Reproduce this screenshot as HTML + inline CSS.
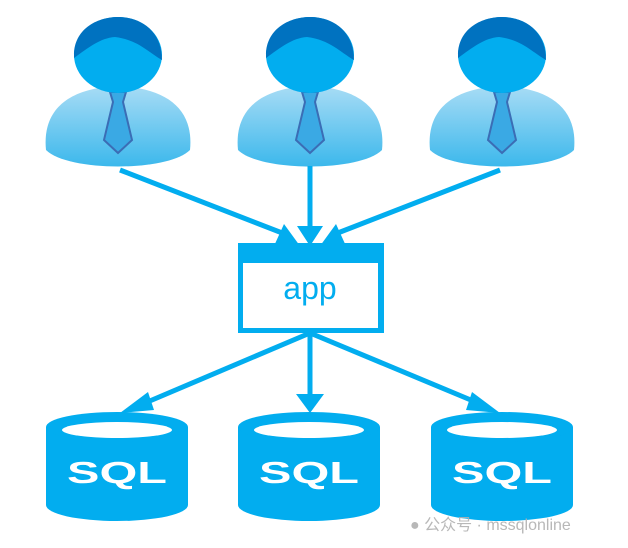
<!DOCTYPE html>
<html><head><meta charset="utf-8"><style>
html,body{margin:0;padding:0;background:#fff;width:628px;height:548px;overflow:hidden}
</style></head><body>
<svg width="628" height="548" viewBox="0 0 628 548" xmlns="http://www.w3.org/2000/svg">
<defs>
<linearGradient id="bd" x1="0" y1="0" x2="0" y2="1">
<stop offset="0" stop-color="#a8dcf5"/><stop offset="1" stop-color="#3cb8ec"/>
</linearGradient>
<g id="person">
<path d="M-72,150 C-76,110 -50,88 0,86 C50,88 76,110 72,150 C50,172 -50,172 -72,150 Z" fill="url(#bd)"/>
<path d="M-8,92 L8,92 L5,102 L14,140 L0,153 L-14,140 L-5,102 Z" fill="#3aa9e4" stroke="#3b6db5" stroke-width="2"/>
<ellipse cx="0" cy="55" rx="44" ry="38" fill="#02adef"/>
<path d="M-44,55 C-44,30 -22,17 0,17 C24,17 44,32 44,60 C30,52 20,40 -3,37 C-18,38 -30,48 -44,58 Z" fill="#0072c0"/>
</g>
<g id="cyl">
<path d="M-71,427 L-71,505 A71,16 0 0 0 71,505 L71,427 Z" fill="#02adef"/>
<ellipse cx="0" cy="427" rx="71" ry="15" fill="#02adef"/>
<ellipse cx="0" cy="430" rx="55" ry="8" fill="#fff"/>
<text x="-50" y="483" textLength="100" lengthAdjust="spacingAndGlyphs" font-family="Liberation Sans, sans-serif" font-weight="bold" font-size="31" fill="#fff">SQL</text>
</g>
</defs>
<use href="#person" x="118" y="0"/>
<use href="#person" x="310" y="0"/>
<use href="#person" x="502" y="0"/>
<g stroke="#02adef" stroke-width="5" fill="none">
<line x1="120" y1="170" x2="290" y2="236"/>
<line x1="310" y1="166" x2="310" y2="228"/>
<line x1="500" y1="170" x2="330" y2="236"/>
<line x1="310" y1="333" x2="145" y2="403"/>
<line x1="310" y1="333" x2="310" y2="395"/>
<line x1="310" y1="333" x2="478" y2="403"/>
</g>
<g fill="#02adef">
<polygon points="284,224 300,246 274,246"/>
<polygon points="297,226 323,226 310,246"/>
<polygon points="336,224 346,246 320,246"/>
<polygon points="148,392 154,410 120,413"/>
<polygon points="296,394 324,394 310,413"/>
<polygon points="472,392 500,413 466,410"/>
</g>
<rect x="238" y="243" width="146" height="90" fill="#02adef"/>
<rect x="243" y="263" width="135" height="65" fill="#fff"/>
<text x="310" y="299" text-anchor="middle" font-family="Liberation Sans, sans-serif" font-size="32" fill="#02adef">app</text>
<use href="#cyl" x="117" y="0"/>
<use href="#cyl" x="309" y="0"/>
<use href="#cyl" x="502" y="0"/>
<text x="410" y="530" font-family="Liberation Sans, 'Noto Sans CJK SC', sans-serif" font-size="16" fill="#b0b0b0" fill-opacity="0.9">● 公众号 · mssqlonline</text>
</svg>
</body></html>
